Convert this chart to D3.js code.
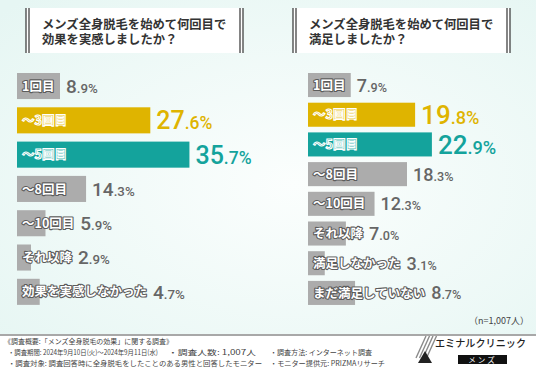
<!DOCTYPE html>
<html>
<head>
<meta charset="utf-8">
<script src="https://cdn.jsdelivr.net/npm/d3@7"></script>
<style>
  html, body { margin: 0; padding: 0; background: #fff; }
  svg { display: block; }
</style>
</head>
<body>
<div id="chart"></div>
<script>
// --- data ---
const leftTitle = ["メンズ全身脱毛を始めて何回目で", "効果を実感しましたか？"];
const leftCategories = ["1回目", "〜3回目", "〜5回目", "〜8回目", "〜10回目", "それ以降", "効果を実感しなかった"];
const leftValues = [8.9, 27.6, 35.7, 14.3, 5.9, 2.9, 4.7];

const rightTitle = ["メンズ全身脱毛を始めて何回目で", "満足しましたか？"];
const rightCategories = ["1回目", "〜3回目", "〜5回目", "〜8回目", "〜10回目", "それ以降", "満足しなかった", "まだ満足していない"];
const rightValues = [7.9, 19.8, 22.9, 18.3, 12.3, 7.0, 3.1, 8.7];

const footerLines = [
  "《調査概要:「メンズ全身脱毛の効果」に関する調査》",
  "・調査期間: 2024年9月10日(火)〜2024年9月11日(水)",
  "・調査人数: 1,007人",
  "・調査方法: インターネット調査",
  "・調査対象: 調査回答時に全身脱毛をしたことのある男性と回答したモニター",
  "・モニター提供元: PRIZMAリサーチ"
];
const sampleNote = "（n=1,007人）";

const W = 536, H = 371;
const jp = "'Noto Sans CJK JP', 'Noto Sans', sans-serif";
const num = "Roboto, 'Noto Sans', sans-serif";

const colors = { gray: "#acacac", yellow: "#dfb400", teal: "#14a39c", grayText: "#666" };
const highlight = { "〜3回目": "yellow", "〜5回目": "teal" };

const svg = d3.select("#chart").append("svg").attr("width", W).attr("height", H);

// background
const defs = svg.append("defs");
const grad = defs.append("radialGradient").attr("id", "bg").attr("cx", "55%").attr("cy", "55%").attr("r", "75%");
grad.append("stop").attr("offset", "0%").attr("stop-color", "#fbfefd");
grad.append("stop").attr("offset", "100%").attr("stop-color", "#e6f6f3");
svg.append("rect").attr("width", W).attr("height", 335).attr("fill", "url(#bg)");
svg.append("rect").attr("y", 335).attr("width", W).attr("height", H - 335).attr("fill", "#fff");
svg.append("line").attr("x1", 0).attr("x2", W).attr("y1", 335).attr("y2", 335)
  .attr("stroke", "#a8a8a8").attr("stroke-width", 2);

function panel({ title, categories, values, boxX, boxW, x0, pxPerPct, top, step, pad, labelSize, grayNum, hiNum }) {
  const g = svg.append("g");

  // title box with double bars
  g.append("rect").attr("x", boxX).attr("y", 8).attr("width", boxW).attr("height", 45).attr("fill", "#fff");
  [boxX, boxX + 3, boxX + boxW - 3, boxX + boxW].forEach(x => {
    g.append("line").attr("x1", x).attr("x2", x).attr("y1", 8).attr("y2", 53)
      .attr("stroke", "#333").attr("stroke-width", 1.2);
  });
  const tt = g.append("text").attr("x", boxX + 16).attr("y", 29)
    .attr("font-family", jp).attr("font-size", 12.3).attr("font-weight", 700).attr("fill", "#333");
  title.forEach((t, i) => {
    tt.append("tspan").attr("x", boxX + 16).attr("dy", i ? 15 : 0).text(t);
  });

  const x = d3.scaleLinear().domain([0, 100]).range([x0, x0 + pxPerPct * 100]);
  const y = d3.scaleBand().domain(categories)
    .range([top - step * pad / 2, top - step * pad / 2 + step * categories.length])
    .paddingInner(pad).paddingOuter(pad / 2);

  const rows = g.selectAll(".row").data(categories.map((c, i) => ({ c, v: values[i] })))
    .enter().append("g").attr("class", "row");

  rows.append("rect")
    .attr("x", x(0)).attr("y", d => y(d.c))
    .attr("width", d => x(d.v) - x(0)).attr("height", y.bandwidth())
    .attr("fill", d => colors[highlight[d.c] || "gray"]);

  rows.each(function (d) {
    const row = d3.select(this);
    const key = highlight[d.c];
    const cy = y(d.c) + y.bandwidth() / 2;
    const lab = row.append("text")
      .attr("x", x(0) + 5).attr("y", cy + labelSize * 0.37)
      .attr("font-family", jp).attr("font-size", labelSize).attr("font-weight", 700)
      .text(d.c);
    if (key) {
      lab.attr("fill", colors[key]).attr("stroke", "#fff").attr("stroke-width", 1.1);
    } else {
      lab.attr("fill", "#fff").attr("stroke", "#5c5c5c").attr("stroke-width", 2.2)
        .attr("paint-order", "stroke").attr("stroke-linejoin", "round");
    }
    const labEnd = x(0) + 5 + lab.node().getComputedTextLength();
    const vx = Math.max(x(d.v), labEnd) + 6;
    const fs = key ? hiNum : grayNum;
    const [ip, dp] = d.v.toFixed(1).split(".");
    const vt = row.append("text").attr("x", vx).attr("y", cy + fs * 0.36)
      .attr("font-family", num).attr("font-weight", 500)
      .attr("fill", key ? colors[key] : colors.grayText);
    vt.append("tspan").attr("font-size", fs).text(ip);
    vt.append("tspan").attr("font-size", fs * 0.7).text("." + dp + "%");
  });
}

panel({ title: leftTitle, categories: leftCategories, values: leftValues,
  boxX: 26, boxW: 217, x0: 17, pxPerPct: 4.83, top: 73, step: 34.3, pad: 0.24,
  labelSize: 12.5, grayNum: 19, hiNum: 25 });

panel({ title: rightTitle, categories: rightCategories, values: rightValues,
  boxX: 293, boxW: 217, x0: 308, pxPerPct: 5.41, top: 73, step: 29.7, pad: 0.19,
  labelSize: 12.5, grayNum: 18, hiNum: 26 });

// sample size note
svg.append("text").attr("x", 529).attr("y", 324).attr("text-anchor", "end")
  .attr("font-family", jp).attr("font-size", 9).attr("fill", "#444").text(sampleNote);

// footer
const foot = svg.append("g").attr("font-family", jp).attr("font-size", 7).attr("fill", "#444");
const footPos = [[4, 344, 169], [8, 355, 150], [168, 355, 88], [270, 355, 102], [8, 366, 254], [270, 366, 115]];
footerLines.forEach((t, i) => {
  foot.append("text").attr("x", footPos[i][0]).attr("y", footPos[i][1])
    .attr("textLength", footPos[i][2]).attr("lengthAdjust", "spacingAndGlyphs").text(t);
});

// logo
const logo = svg.append("g");
[0, 3.5, 7, 10.5].forEach(o => {
  logo.append("line").attr("x1", 416 + o).attr("y1", 358).attr("x2", 426 + o).attr("y2", 336)
    .attr("stroke", "#8a8a8a").attr("stroke-width", 1.4);
});
logo.append("path").attr("d", "M418,363 L425,351 L432,363 Z").attr("fill", "#222");
logo.append("text").attr("x", 435).attr("y", 347).attr("font-family", jp).attr("font-size", 10.5)
  .attr("font-weight", 500).attr("fill", "#222")
  .attr("textLength", 91).attr("lengthAdjust", "spacingAndGlyphs").text("エミナルクリニック");
logo.append("rect").attr("x", 458).attr("y", 355).attr("width", 49).attr("height", 9).attr("fill", "#111");
logo.append("text").attr("x", 482.5).attr("y", 362.5).attr("text-anchor", "middle")
  .attr("font-family", jp).attr("font-size", 7.5).attr("fill", "#fff").attr("letter-spacing", 2).text("メンズ");
</script>
</body>
</html>
